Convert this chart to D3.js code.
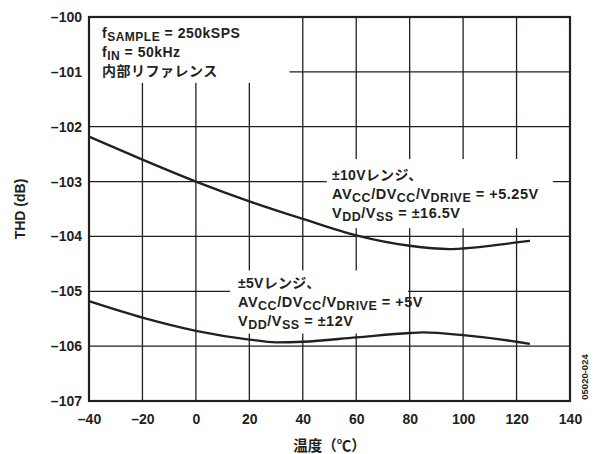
<!DOCTYPE html>
<html>
<head>
<meta charset="utf-8">
<script src="https://cdn.jsdelivr.net/npm/d3@7/dist/d3.min.js"></script>
<style>
  html, body { margin: 0; padding: 0; background: #fff; }
  svg { display: block; }
  text { font-family: "Liberation Sans", Arial, "Noto Sans CJK JP", sans-serif; font-weight: bold; fill: #231f20; }
</style>
</head>
<body>
<svg id="chart" width="597" height="454"></svg>
<script>
// ---- data ----
const xTicks = [-40, -20, 0, 20, 40, 60, 80, 100, 120, 140];
const yTicks = [-100, -101, -102, -103, -104, -105, -106, -107];
const tempC = [-40, -20, 0, 20, 40, 60, 80, 95, 100, 120, 125];
const thd10V = [-102.18, -102.6, -103.0, -103.36, -103.68, -103.98, -104.17, -104.23, -104.22, -104.11, -104.08];
const tempC5 = [-40, -20, 0, 20, 30, 40, 60, 80, 85, 100, 120, 125];
const thd5V = [-105.18, -105.48, -105.72, -105.88, -105.93, -105.92, -105.84, -105.76, -105.75, -105.8, -105.92, -105.96];

const svg = d3.select("#chart");
const L = 89, R = 570, T = 17, B = 401;
const x = d3.scaleLinear().domain([-40, 140]).range([L, R]);
const y = d3.scaleLinear().domain([-107, -100]).range([B, T]);
const ink = "#231f20";

// gridlines
const grid = svg.append("g");
grid.selectAll("line.v").data(xTicks.slice(1, -1)).join("line")
  .attr("x1", d => x(d)).attr("x2", d => x(d)).attr("y1", T).attr("y2", B)
  .attr("stroke", ink).attr("stroke-width", 1.3);
grid.selectAll("line.h").data(yTicks.slice(1, -1)).join("line")
  .attr("x1", L).attr("x2", R).attr("y1", d => y(d)).attr("y2", d => y(d))
  .attr("stroke", ink).attr("stroke-width", 1.3);

// white boxes behind annotations
const boxes = [
  {x0: -40, x1: 35, y0: -100, y1: -101.2},
  {x0: 49, x1: 133.6, y0: -102.59, y1: -103.85},
  {x0: 12.8, x1: 79.4, y0: -104.62, y1: -105.77}
];
svg.append("g").selectAll("rect").data(boxes).join("rect")
  .attr("x", d => x(d.x0)).attr("y", d => y(d.y0))
  .attr("width", d => x(d.x1) - x(d.x0)).attr("height", d => y(d.y1) - y(d.y0))
  .attr("fill", "#fff");

// curves
const line = d3.line().x(d => x(d[0])).y(d => y(d[1])).curve(d3.curveMonotoneX);
svg.append("path").datum(d3.zip(tempC, thd10V)).attr("d", line)
  .attr("fill", "none").attr("stroke", ink).attr("stroke-width", 2.3);
svg.append("path").datum(d3.zip(tempC5, thd5V)).attr("d", line)
  .attr("fill", "none").attr("stroke", ink).attr("stroke-width", 2.3);

// frame
svg.append("rect").attr("x", L).attr("y", T).attr("width", R - L).attr("height", B - T)
  .attr("fill", "none").attr("stroke", ink).attr("stroke-width", 2.2);

// axes (labels only)
const fmt = d => (d < 0 ? "\u2013" : "") + Math.abs(d);
const yAxis = svg.append("g").attr("transform", `translate(${L},0)`)
  .call(d3.axisLeft(y).tickValues(yTicks).tickFormat(fmt).tickSize(0).tickPadding(7));
const xAxis = svg.append("g").attr("transform", `translate(0,${B})`)
  .call(d3.axisBottom(x).tickValues(xTicks).tickFormat(fmt).tickSize(0).tickPadding(13));
[yAxis, xAxis].forEach(a => {
  a.select(".domain").remove();
  a.selectAll("text").attr("font-size", 14).attr("font-family", null).attr("fill", ink);
});

// axis titles
svg.append("text").attr("x", x(50)).attr("y", 451).attr("text-anchor", "middle")
  .attr("font-size", 14.5).text("温度（℃）");
svg.append("text").attr("transform", `translate(25,${(T + B) / 2}) rotate(-90)`)
  .attr("text-anchor", "middle").attr("font-size", 14).text("THD (dB)");

// figure id
svg.append("text").attr("transform", "translate(588,377) rotate(-90)")
  .attr("text-anchor", "middle").attr("font-size", 9.5).attr("font-weight", "normal")
  .text("05020-024");

// annotation helper: parts [text, isSub]
function rich(xp, yp, parts, fs, sfs, ls) {
  const t = svg.append("text").attr("x", xp).attr("y", yp).attr("font-size", fs)
    .attr("letter-spacing", ls);
  let prevSub = false;
  parts.forEach(([s, sub]) => {
    const ts = t.append("tspan").text(s);
    if (sub) ts.attr("font-size", sfs).attr("dy", prevSub ? 0 : 3);
    else ts.attr("dy", prevSub ? -3 : 0);
    prevSub = sub;
  });
  return t;
}
rich(102, 38, [["f", 0], ["SAMPLE", 1], [" = 250kSPS", 0]], 14, 12, 0.5);
rich(102, 57, [["f", 0], ["IN", 1], [" = 50kHz", 0]], 14, 12, 0.5);
rich(102, 76, [["内部リファレンス", 0]], 14, 12, 0.5);

rich(332, 180, [["±10Vレンジ、", 0]], 14, 12, 0.3);
rich(332, 199, [["AV", 0], ["CC", 1], ["/DV", 0], ["CC", 1], ["/V", 0], ["DRIVE", 1], [" = +5.25V", 0]], 14.5, 12.5, 0.5);
rich(332, 218, [["V", 0], ["DD", 1], ["/V", 0], ["SS", 1], [" = ±16.5V", 0]], 14.5, 12.5, 0.5);

rich(238, 288, [["±5Vレンジ、", 0]], 14, 12, 0.3);
rich(238, 307, [["AV", 0], ["CC", 1], ["/DV", 0], ["CC", 1], ["/V", 0], ["DRIVE", 1], [" = +5V", 0]], 14.5, 12.5, 0.5);
rich(238, 326, [["V", 0], ["DD", 1], ["/V", 0], ["SS", 1], [" = ±12V", 0]], 14.5, 12.5, 0.5);
</script>
</body>
</html>
